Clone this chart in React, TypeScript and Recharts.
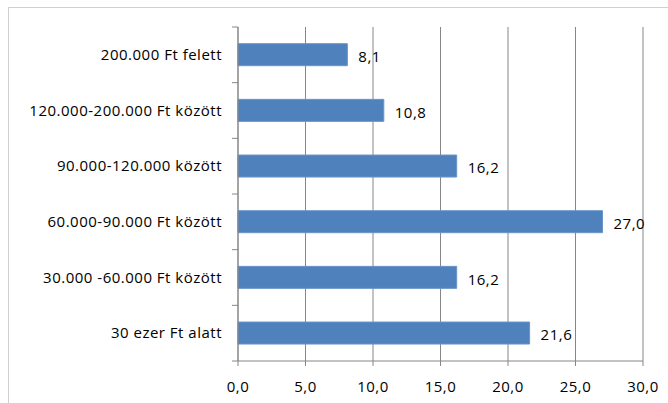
import { BarChart, Bar, XAxis, YAxis, CartesianGrid, LabelList } from 'recharts'

const categories = [
  '200.000 Ft felett',
  '120.000-200.000 Ft között',
  '90.000-120.000 között',
  '60.000-90.000 Ft között',
  '30.000 -60.000 Ft között',
  '30 ezer Ft alatt',
]
const values = [8.1, 10.8, 16.2, 27.0, 16.2, 21.6]
const xTicks = [0, 5, 10, 15, 20, 25, 30]

const data = categories.map((name, i) => ({ name, value: values[i] }))

const W = 668
const H = 403
const TOP = 27
const BOTTOM = 42
const AXIS_X = 238
const band = (H - TOP - BOTTOM) / categories.length

const fmt = (v: number) => v.toFixed(1).replace('.', ',')
const FONT = '"Open Sans", sans-serif'

function CatTick(props: any) {
  const { y, payload, index } = props
  return (
    <g>
      <text x={222} y={y} dy={5} textAnchor="end" fontSize={15} letterSpacing={0.5} fill="#000" fontFamily={FONT}>
        {payload.value}
      </text>
      <line x1={AXIS_X - 6} x2={AXIS_X} y1={y - band / 2} y2={y - band / 2} stroke="#868686" />
      {index === categories.length - 1 && (
        <line x1={AXIS_X - 6} x2={AXIS_X} y1={y + band / 2} y2={y + band / 2} stroke="#868686" />
      )}
    </g>
  )
}

export default function App() {
  return (
    <div style={{ position: 'absolute', left: 0, top: 0, width: W, height: H, overflow: 'hidden', background: '#fff' }}>
      <div
        style={{
          position: 'absolute',
          left: 8,
          top: 7,
          width: 700,
          height: 440,
          border: '1px solid #d0d0d0',
        }}
      />
      <div style={{ position: 'absolute', left: 0, top: 0 }}>
        <BarChart
          width={W}
          height={H}
          data={data}
          layout="vertical"
          margin={{ top: TOP, right: 25, left: 0, bottom: 12 }}
          barCategoryGap="30%"
        >
          <CartesianGrid horizontal={false} stroke="#868686" />
          <XAxis
            type="number"
            domain={[0, 30]}
            ticks={xTicks}
            tickFormatter={fmt}
            height={30}
            stroke="#868686"
            tickSize={5}
            tickMargin={15}
            tick={{ fill: '#000', fontSize: 15, fontFamily: FONT, letterSpacing: 0.5 }}
            interval={0}
          />
          <YAxis
            type="category"
            dataKey="name"
            width={AXIS_X}
            stroke="#868686"
            tickLine={false}
            tick={<CatTick />}
            interval={0}
          />
          <Bar dataKey="value" fill="#4F81BD" stroke="#6A94C8" strokeWidth={1} isAnimationActive={false}>
            <LabelList
              dataKey="value"
              position="right"
              offset={11}
              dy={2}
              formatter={(v: any) => fmt(Number(v))}
              style={{ fill: '#000', fontSize: 15, fontFamily: FONT, letterSpacing: 0.5 }}
            />
          </Bar>
        </BarChart>
      </div>
    </div>
  )
}
